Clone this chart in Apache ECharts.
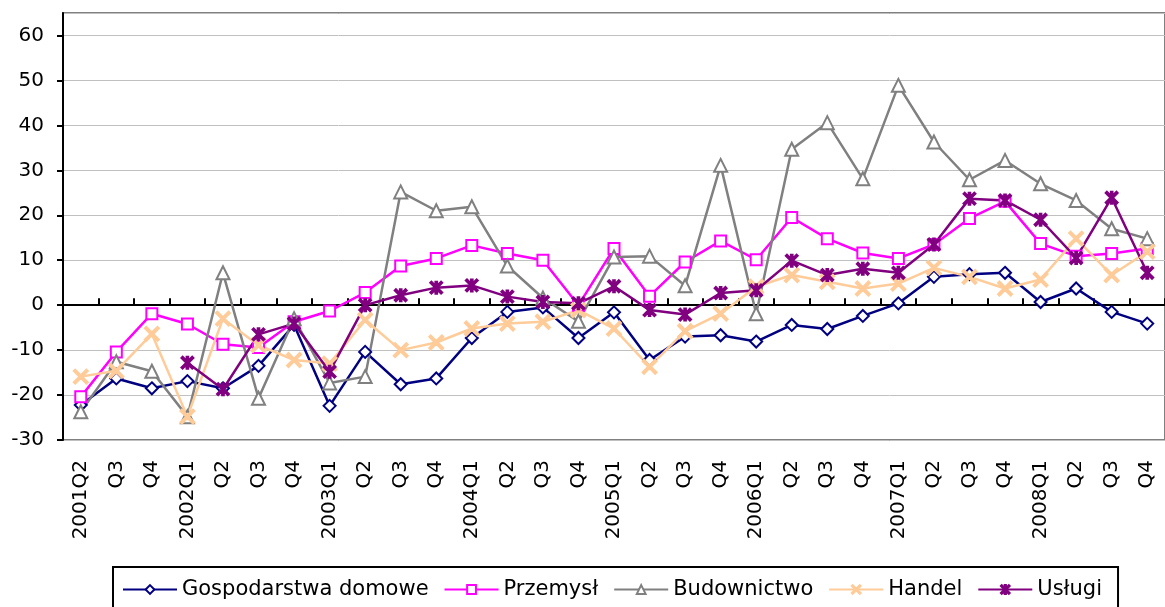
<!DOCTYPE html>
<html>
<head>
<meta charset="utf-8">
<script src="https://cdn.jsdelivr.net/npm/echarts@6/dist/echarts.min.js"></script>
<style>
    html, body { margin: 0; padding: 0; background: #fff; }
    #graphics { width: 1165px; height: 607px; }
</style>
</head>
<body>
<div id="graphics"></div>
<script>
// Quarters
const categories = ["2001Q2", "Q3", "Q4",
    "2002Q1", "Q2", "Q3", "Q4",
    "2003Q1", "Q2", "Q3", "Q4",
    "2004Q1", "Q2", "Q3", "Q4",
    "2005Q1", "Q2", "Q3", "Q4",
    "2006Q1", "Q2", "Q3", "Q4",
    "2007Q1", "Q2", "Q3", "Q4",
    "2008Q1", "Q2", "Q3", "Q4"];

// Series values
const gospodarstwa = [-22.2, -16.3, -18.5, -16.9, -18.5, -13.5, -4.4, -22.4, -10.4, -17.6, -16.3,
    -7.3, -1.5, -0.5, -7.3, -1.6, -12.2, -7.0, -6.7, -8.1, -4.4, -5.3,
    -2.4, 0.4, 6.3, 6.9, 7.2, 0.7, 3.7, -1.5, -4.1];
const przemysl = [-20.4, -10.4, -1.9, -4.2, -8.7, -9.4, -3.7, -1.3, 2.8, 8.7, 10.4,
    13.3, 11.5, 10.0, 0.0, 12.6, 2.0, 9.6, 14.3, 10.1, 19.5, 14.8,
    11.6, 10.4, 13.5, 19.3, 23.1, 13.7, 10.9, 11.5, 12.6];
const budownictwo = [-23.7, -12.6, -14.7, -24.8, 7.2, -20.7, -3.0, -17.3, -15.9, 25.2, 21.0,
    21.9, 8.7, 1.6, -3.6, 10.7, 10.9, 4.3, 31.1, -1.9, 34.7, 40.6,
    28.1, 48.9, 36.3, 27.9, 32.2, 27.0, 23.3, 17.0, 14.8];
const handel = [-15.9, -14.6, -6.4, -24.8, -3.0, -8.9, -12.2, -13.0, -3.3, -10.0, -8.3,
    -5.2, -4.1, -3.7, -1.1, -5.2, -13.7, -5.8, -1.9, 4.1, 6.7, 5.2,
    3.7, 4.8, 8.3, 6.3, 3.7, 5.7, 14.8, 6.7, 11.9];
const uslugi = [null, null, null, -12.8, -18.7, -6.5, -4.1, -14.8, 0.0, 2.2, 3.9,
    4.4, 1.9, 0.7, 0.4, 4.2, -1.1, -2.1, 2.7, 3.3, 9.9, 6.7,
    8.1, 7.2, 13.5, 23.7, 23.3, 19.0, 10.5, 23.9, 7.2];

// marker shapes that echarts does not have
const crossPath = 'path://M0,1 L1,0 L5,4 L9,0 L10,1 L6,5 L10,9 L9,10 L5,6 L1,10 L0,9 L4,5 Z';
const starPath = 'path://M0,1 L1,0 L5,4 L9,0 L10,1 L6,5 L10,9 L9,10 L5,6 L1,10 L0,9 L4,5 Z M4.3,0 L5.7,0 L5.7,10 L4.3,10 Z';

const fontName = 'DejaVu Sans';

function make_series(name, data, color, symbol, size) {
    return {
        name: name,
        type: 'line',
        xAxisIndex: 0,
        data: data,
        color: color,
        symbol: symbol,
        symbolSize: size,
        showAllSymbol: true,
        lineStyle: { width: 2.5, color: color },
        itemStyle: { color: color, borderColor: color, borderWidth: 2 },
        emphasis: { disabled: true },
        animation: false
    };
}

var myChart = echarts.init(document.getElementById('graphics'));

var option = {
    animation: false,
    textStyle: { fontFamily: fontName },
    grid: {
        left: 63,
        top: 13,
        right: -11,
        bottom: 167,
        show: true,
        borderColor: '#808080',
        borderWidth: 2
    },
    legend: {
        left: 113,
        top: 567,
        itemWidth: 54,
        itemHeight: 11,
        itemGap: 15,
        padding: [12, 16, 30, 9],
        borderColor: '#000',
        borderWidth: 2,
        textStyle: { fontFamily: fontName, fontSize: 21, color: '#000' },
        data: ['Gospodarstwa domowe', 'Przemysł', 'Budownictwo', 'Handel', 'Usługi']
    },
    xAxis: [
        {
            // bottom axis with the labels
            type: 'category',
            position: 'bottom',
            data: categories,
            boundaryGap: true,
            axisLine: { show: false, onZero: false },
            axisTick: { show: false },
            axisLabel: {
                rotate: 90,
                interval: 0,
                margin: 20,
                fontSize: 20,
                color: '#000',
                fontFamily: fontName
            },
            splitLine: { show: false }
        },
        {
            // black line at zero with ticks
            type: 'category',
            position: 'bottom',
            data: categories,
            boundaryGap: true,
            axisLine: { show: true, onZero: true, lineStyle: { color: '#000', width: 2 } },
            axisTick: { show: true, inside: true, length: 7, interval: 0, lineStyle: { color: '#000', width: 2 } },
            axisLabel: { show: false },
            splitLine: { show: false }
        }
    ],
    yAxis: {
        type: 'value',
        min: -30,
        max: 65,
        interval: 10,
        axisLine: { show: true, onZero: false, lineStyle: { color: '#000', width: 2 } },
        axisTick: { show: true, length: 6, lineStyle: { color: '#000', width: 2 } },
        axisLabel: {
            showMaxLabel: false,
            margin: 19,
            fontSize: 20,
            color: '#000',
            fontFamily: fontName
        },
        splitLine: { show: true, lineStyle: { color: '#c0c0c0', width: 1 } }
    },
    series: [
        make_series('Gospodarstwa domowe', gospodarstwa, '#000080', 'emptyDiamond', 12),
        make_series('Przemysł', przemysl, '#ff00ff', 'emptyRect', 11),
        make_series('Budownictwo', budownictwo, '#808080', 'emptyTriangle', 13),
        make_series('Handel', handel, '#ffcc99', crossPath, 14),
        make_series('Usługi', uslugi, '#800080', starPath, 12)
    ]
};

myChart.setOption(option);
</script>
</body>
</html>
